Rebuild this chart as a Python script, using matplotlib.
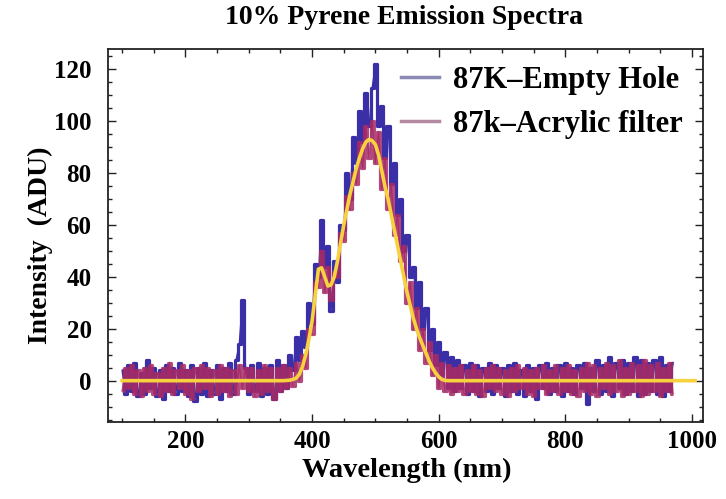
import numpy as np
import matplotlib
matplotlib.use("Agg")
import matplotlib.pyplot as plt
from matplotlib.lines import Line2D
from matplotlib.ticker import MultipleLocator

# Sampling grid of the spectrometer traces (nm)
wavelength = np.arange(100, 975, 5)

# 87K, empty hole (counts per sample)
empty_hole = [
    4, -5, 6, -4, 7, -6, 3, -5, 8, -3,
    5, -6, 4, -7, 6, -4, 5, -5, 7, -4,
    4, -6, 6, -8, 5, -5, 7, -6, 4, -5,
    6, -7, 5, -4, 7, -5, 8, 14, 31, 5,
    -5, 6, -4, 7, -6, 5, -5, 6, -7, 8,
    -4, 6, -3, 10, 4, 17, 8, 19, 13, 30,
    22, 45, 40, 62, 44, 52, 27, 46, 38, 60,
    58, 80, 70, 94, 84, 104, 92, 111, 98, 113,
    122, 98, 106, 86, 98, 76, 84, 64, 70, 50,
    56, 40, 44, 28, 38, 20, 28, 12, 20, 6,
    15, 2, 11, -3, 9, -4, 8, -3, 6, -5,
    7, -4, 6, -6, 5, -4, 7, -5, 6, -3,
    5, -6, 6, -4, 7, -5, 4, -6, 6, -4,
    5, -7, 6, -3, 7, -5, 5, -4, 6, -6,
    7, -4, 5, -5, 6, -3, 7, -9, 5, -4,
    8, -5, 6, -4, 9, -6, 7, -3, 8, -5,
    7, -4, 9, -6, 8, -5, 7, -4, 8, -5,
    9, -6, 6, -4, 7,
]

# 87K, acrylic filter
acrylic_filter = [
    -4, 5, -3, 6, -5, 4, -6, 5, -4, 6,
    -5, 3, -6, 5, -4, 7, -5, 4, -3, 6,
    -5, 4, -7, 5, -4, 6, -3, 5, -6, 4,
    -5, 6, -4, 5, -6, 4, -5, 6, -3, 5,
    -4, 5, -6, 4, -5, 6, -4, 5, -7, 5,
    -4, 6, -3, 5, -2, 7, 0, 10, 5, 20,
    18, 38, 36, 50, 34, 44, 31, 42, 40, 57,
    54, 71, 66, 80, 76, 92, 82, 98, 86, 100,
    84, 96, 74, 86, 66, 76, 56, 64, 46, 52,
    30, 38, 20, 28, 12, 20, 7, 15, 2, 10,
    -3, 7, -4, 6, -5, 5, -4, 6, -5, 4,
    -4, 6, -5, 4, -6, 5, -3, 6, -4, 5,
    -5, 4, -6, 5, -4, 6, -3, 5, -5, 4,
    -6, 5, -3, 6, -5, 4, -4, 6, -5, 5,
    -4, 6, -5, 4, -6, 5, -4, 7, -5, 6,
    -6, 5, -3, 7, -5, 6, -4, 8, -6, 5,
    -5, 7, -4, 6, -6, 8, -5, 6, -4, 7,
    -6, 5, -4, 7, -5,
]

# Two-band fit to the emission
fit_wavelength = [100, 355,
                  360, 365, 370, 375, 380, 385, 390, 395, 400, 405,
                  410, 415, 420, 425, 430, 435, 440, 445, 450, 455,
                  460, 465, 470, 475, 480, 485, 490, 495, 500, 505,
                  510, 515, 520, 525, 530, 535, 540, 545, 550, 555,
                  560, 565, 570, 575, 580, 585, 590, 595, 600, 605,
                  610, 615, 1005]
fit_intensity = [0, 0,
                 0.1, 0.2, 0.5, 1, 2.5, 5.5, 10, 16, 23, 33,
                 43, 43.5, 40, 36.5, 37, 40, 46, 53, 60, 66,
                 72, 77, 82, 86, 89.5, 92, 93, 92.5, 91, 87,
                 81, 75, 70, 64, 58, 52, 46, 40, 34, 29,
                 24, 20, 16.5, 13.5, 10.5, 7.5, 5, 3, 1.5, 0.5,
                 0.1, 0, 0]

labels = ["87K\u2013Empty Hole", "87k\u2013Acrylic filter"]
title = "10% Pyrene Emission Spectra"

plt.rcParams["font.family"] = ["Liberation Serif", "DejaVu Serif"]
plt.rcParams["font.weight"] = "bold"

fig = plt.figure(figsize=(7.26, 4.99), dpi=100)
ax = fig.add_axes([0.149, 0.155, 0.819, 0.746])

blue = "#3a2fa6"
plum = "#a62a66"
# dense noisy traces: a stepped trace fills the band, a thin polyline adds spikes
for values, colour, alpha, z in ((empty_hole, blue, 1.0, 2),
                                 (acrylic_filter, plum, 0.85, 3)):
    ax.plot(wavelength, values, color=colour, lw=2.3, alpha=alpha,
            drawstyle="steps-mid", solid_capstyle="butt", zorder=z)
    ax.plot(wavelength, values, color=colour, lw=1.0, alpha=alpha, zorder=z)
ax.plot(fit_wavelength, fit_intensity, color="#f6d23e", lw=2.6, zorder=4)

ax.set_xlim(78, 1017)
ax.set_ylim(-15.8, 127.7)
ax.xaxis.set_major_locator(MultipleLocator(200))
ax.xaxis.set_minor_locator(MultipleLocator(50))
ax.yaxis.set_major_locator(MultipleLocator(20))
ax.yaxis.set_minor_locator(MultipleLocator(5))
ax.tick_params(which="both", direction="in", top=True, right=True,
               color="#222222", width=1.0)
ax.tick_params(which="major", length=6, labelsize=18)
ax.tick_params(which="minor", length=3)
ax.tick_params(axis="x", which="major", pad=6)
ax.tick_params(axis="y", which="major", pad=12)
for lab in ax.get_xticklabels() + ax.get_yticklabels():
    lab.set_fontweight("bold")
for sp in ax.spines.values():
    sp.set_linewidth(1.3)
    sp.set_color("#222222")

handles = [Line2D([], [], color="#8a8ab4", lw=2.5),
           Line2D([], [], color="#b48aa0", lw=2.5)]
ax.legend(handles, labels, loc="upper left", bbox_to_anchor=(0.462, 1.005),
          frameon=False, fontsize=22, handlelength=1.25, handletextpad=0.45,
          labelspacing=0.5, borderaxespad=0.2)

fig.text(404 / 726, 1 - 18 / 499, title, ha="center", va="center",
         fontsize=20, fontweight="bold")
fig.text(407 / 726, 1 - 470 / 499, "Wavelength (nm)", ha="center",
         va="center", fontsize=20.5, fontweight="bold")
fig.text(40 / 726, 1 - 245 / 499, "Intensity  (ADU)", ha="center",
         va="center", rotation=90, fontsize=20, fontweight="bold")

fig.savefig("out.png", dpi=100)
